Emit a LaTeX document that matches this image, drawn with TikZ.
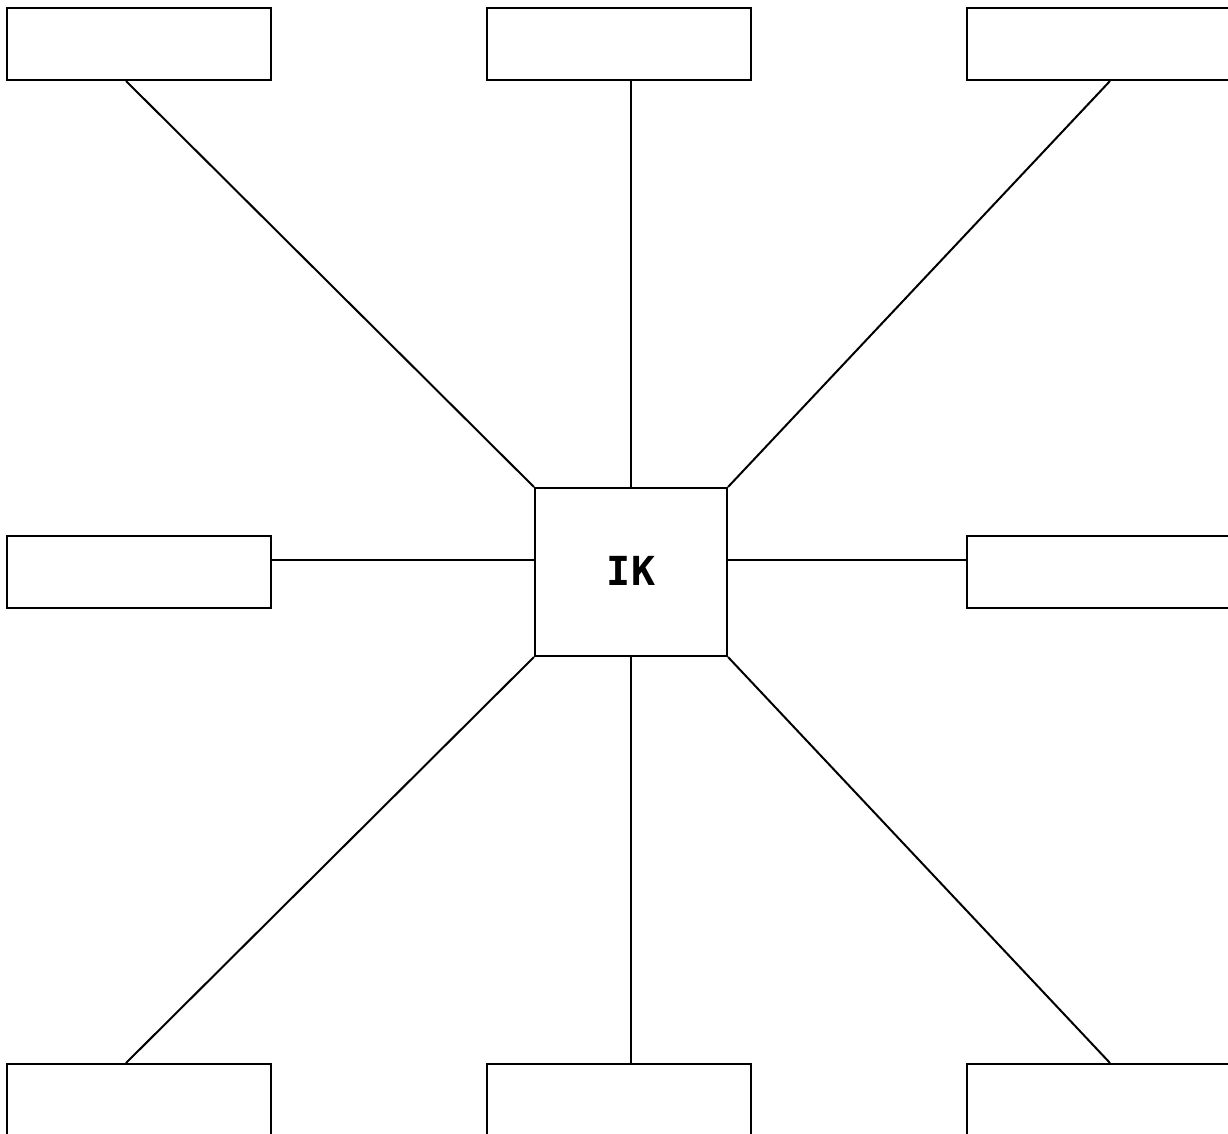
\documentclass[tikz,border=0pt]{standalone}
\usepackage{fontspec}
\newfontfamily\labelfont{DejaVu Sans Mono}
\begin{document}
\begin{tikzpicture}[x=1pt,y=-1pt,
  box/.style={draw=black,line width=2pt,fill=white,inner sep=0pt,minimum width=264pt,minimum height=72pt},
  hub/.style={draw=black,line width=2pt,fill=white,inner sep=0pt,minimum width=192pt,minimum height=168pt,font=\labelfont\bfseries\fontsize{40}{48}\selectfont},
  link/.style={draw=black,line width=2pt}]
\useasboundingbox (0,0) rectangle (1228,1133);
\clip (0,0) rectangle (1228,1133);
\node[box] (tl) at (139,44) {};
\node[box] (tm) at (619,44) {};
\node[box] (tr) at (1099,44) {};
\node[box] (ml) at (139,572) {};
\node[box] (mr) at (1099,572) {};
\node[box] (bl) at (139,1100) {};
\node[box] (bm) at (619,1100) {};
\node[box] (br) at (1099,1100) {};
\node[hub] (c) at (631,572) {\raisebox{3pt}{IK}};
\draw[link] ([xshift=120pt]tl.south west) -- (c.north west);
\draw[link] ([xshift=12pt]tm.south) -- (c.north);
\draw[link] ([xshift=144pt]tr.south west) -- (c.north east);
\draw[link] ([yshift=12pt]ml.east) -- ([yshift=12pt]c.west);
\draw[link] ([yshift=12pt]c.east) -- ([yshift=12pt]mr.west);
\draw[link] (c.south west) -- ([xshift=120pt]bl.north west);
\draw[link] (c.south) -- ([xshift=12pt]bm.north);
\draw[link] (c.south east) -- ([xshift=144pt]br.north west);
\end{tikzpicture}
\end{document}
